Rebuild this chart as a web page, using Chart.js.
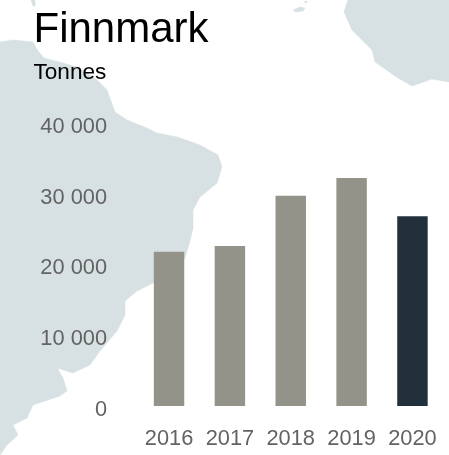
<!DOCTYPE html>
<html><head><meta charset="utf-8">
<style>
html,body{margin:0;padding:0;background:#fff;width:449px;height:455px;overflow:hidden}
#map{position:absolute;left:0;top:0}
#wrap{position:absolute;left:0;top:0;width:449px;height:455px}
</style>
<script src="https://cdn.jsdelivr.net/npm/chart.js@4"></script>
</head><body>
<svg id="map" width="449" height="455" viewBox="0 0 449 455">
<g fill="#d7e0e2" stroke="#d7e0e2" stroke-width="0.5">
<path d="M0 42 L13 40 L33 42 L38 51 L44 58 L63 63 L80 68 L97 80 L107 90 L115 112 L127 120 L147 128 L157 133 L177 137 L200 145 L218 155 L222 167 L217 183 L200 197 L193 210 L193 228 L190 241 L185 258 L177 271 L153 283 L137 291 L125 301 L125 315 L117 331 L100 351 L90 365 L73 373 L57 368 L53 361 L63 378 L67 391 L60 396 L33 405 L27 418 L13 425 L18 435 L7 445 L0 455 Z"/>
<path d="M348 0 L344 12 L352 30 L372 50 L375 62 L398 78 L412 86 L432 79 L449 82 L449 0 Z"/>
<path d="M293 10 L300 7 L305 8 L303 11 L296 12 Z"/>
<path d="M304 2 L307 1 L307 3 Z"/>
<path d="M31 0 L35 0 L35 6 L33 6 Z"/>
</g>
</svg>
<div id="wrap"><canvas id="c" width="449" height="455"></canvas></div>
<script>
const categories = ["2016","2017","2018","2019","2020"];
const tonnes = [21800, 22600, 29700, 32200, 26800];
const barColours = ["#93938a","#93938a","#93938a","#93938a","#22303c"];
const yTicks = [0, 10000, 20000, 30000, 40000];
const titleText = "Finnmark";
const unitText = "Tonnes";
const fontFamily = "'Liberation Sans', Arial, sans-serif";

new Chart(document.getElementById("c"), {
  type: "bar",
  data: {
    labels: categories,
    datasets: [{ data: tonnes, backgroundColor: barColours, borderWidth: 0,
                 categoryPercentage: 0.5, barPercentage: 1 }]
  },
  options: {
    responsive: false, animation: false,
    layout: { padding: { left: 33.5, right: 3, top: 5, bottom: 4 } },
    plugins: {
      legend: { display: false }, tooltip: { enabled: false },
      title: { display: true, text: titleText, align: "start", color: "#000",
               font: { family: fontFamily, size: 42, weight: "normal", lineHeight: 1.2 },
               padding: { top: 0, bottom: 3.4 } },
      subtitle: { display: true, text: unitText, align: "start", color: "#000",
               font: { family: fontFamily, size: 22.6, weight: "normal", lineHeight: 1.2 },
               padding: { top: 0, bottom: 37 } }
    },
    scales: {
      x: { grid: { display: false }, border: { display: false },
           afterFit: s => { s.height = 45; },
           ticks: { color: "#636363", padding: 12, maxRotation: 0, autoSkip: false,
                    font: { family: fontFamily, size: 21.8 } } },
      y: { min: 0, max: 40000, grid: { display: false }, border: { display: false },
           afterBuildTicks: s => { s.ticks = yTicks.map(v => ({ value: v })); },
           afterFit: s => { s.width = 105.1; },
           ticks: { color: "#636363", padding: 23.6, labelOffset: 4,
                    callback: v => String(v).replace(/\B(?=(\d{3})+$)/g, " "),
                    font: { family: fontFamily, size: 21.8 } } }
    }
  }
});
</script>
</body></html>
